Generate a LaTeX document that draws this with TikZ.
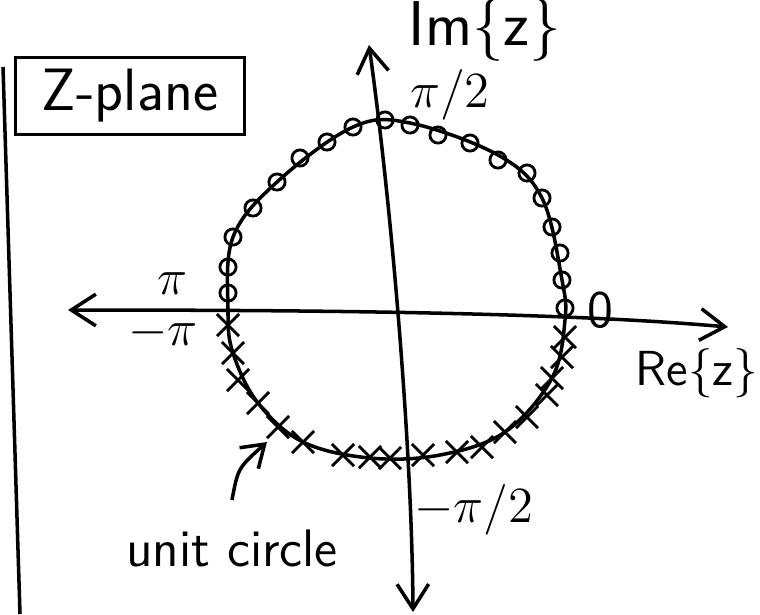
\documentclass[tikz,border=0pt]{standalone}
\usetikzlibrary{arrows.meta,shapes.misc}

\begin{document}
\begin{tikzpicture}[x=0.01cm,y=-0.01cm,line width=1pt,
  >={Straight Barb[length=7pt,width=9pt]},
  omark/.style={draw,circle,inner sep=0pt,minimum size=4.6pt,line width=0.8pt},
  xmark/.style={draw,cross out,inner sep=0pt,minimum size=5.5pt,line width=0.8pt},
  lbl/.style={font=\fontsize{15}{17}\selectfont\sffamily}]
  \useasboundingbox (0,0) rectangle (760,614);

  % Page edge and title box
  \draw (3,67) -- (20,614);
  \node[draw,lbl,font=\fontsize{17}{19}\selectfont\sffamily,minimum width=65pt,minimum height=17.5pt] (zplane) at (130,96) {Z-plane};

  % Axes
  \coordinate (reL) at (68,310);
  \coordinate (reR) at (728,327);
  \coordinate (imT) at (369,45);
  \coordinate (imB) at (413,612);
  \draw[<->] (reL) .. controls (300,310) and (560,312) .. (reR);
  \draw[<->] (imT) .. controls (392,210) and (412,450) .. (imB);

  % Unit circle (hand drawn, a bit squashed)
  \draw plot[smooth cycle,tension=0.6] coordinates {(228,310) (233,237) (277,182) (353,127) (410,123)
    (498,155) (542,198) (562,280) (565,320) (552,378) (505,432) (440,455) (370,458) (303,442)
    (258,403) (233,353)};

  % Zeros on the upper half
  \foreach \p [count=\i] in {(228,293),(228,267),(233,237),(253,208),(277,182),(300,158),(327,142),
      (353,127),(385,120),(410,125),(438,135),(470,143),(498,160),(527,173),(542,198),(552,227),
      (560,253),(562,280),(565,308)}
    \node[omark] (o\i) at \p {};

  % Poles on the lower half
  \foreach \p [count=\i] in {(228,325),(233,353),(238,380),(258,403),(278,427),(303,442),(343,455),
      (370,457),(390,458),(423,455),(457,452),(482,447),(505,432),(527,417),(547,395),(552,378),
      (562,357),(565,337)}
    \node[xmark] (x\i) at \p {};

  % Labels
  \node[lbl,font=\fontsize{18}{20}\selectfont\sffamily] (im) at (485,30) {Im\{z\}};
  \node[lbl,font=\fontsize{14}{16}\selectfont\sffamily] (re) at (697,373) {Re\{z\}};
  \node[lbl] (halfpi) at (450,95) {$\pi/2$};
  \node[lbl] (pi) at (172,284) {$\pi$};
  \node[lbl] (mpi) at (163,333) {$-\pi$};
  \node[lbl] (zero) at (600,310) {0};
  \node[lbl] (mhalfpi) at (474,510) {$-\pi/2$};
  \node[lbl] (uc) at (232,548) {unit circle};

  \coordinate (ucTail) at (232,500);
  \coordinate (ucTip) at (267,442);
  \draw[->,>={Straight Barb[length=6pt,width=8pt]}] (ucTail) .. controls (238,468) .. (ucTip);
\end{tikzpicture}
\end{document}
